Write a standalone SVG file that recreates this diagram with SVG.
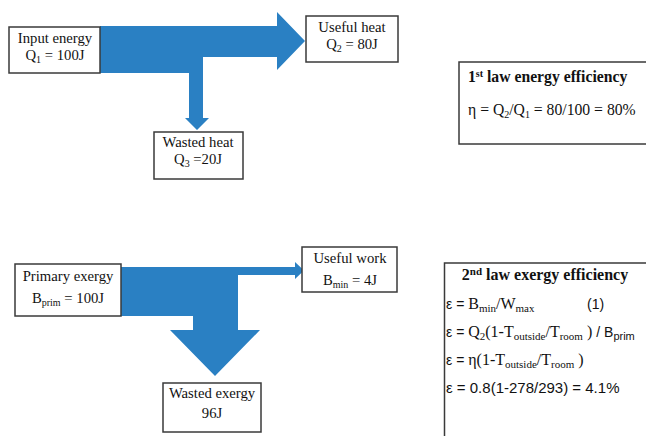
<svg xmlns="http://www.w3.org/2000/svg" width="646" height="436" viewBox="0 0 646 436">
<style>
.box{fill:#fff;stroke:#3a3a3a;stroke-width:1.5}
.flow{fill:#2a80c3}
.t{font-family:"Liberation Serif","Times New Roman",serif;font-size:14.7px;fill:#111}
.c{text-anchor:middle}
.b{font-weight:bold}
.m{font-size:15.7px}
.l{font-size:16px}
.s{font-family:"Liberation Sans",Arial,sans-serif;font-size:14px}
.sub{font-size:10px}
.sub2{font-size:11px}
</style>
<rect width="646" height="436" fill="#fff"/>
<g id="connectors">
<polygon class="flow" points="100,26 277,26 277,12 305,41 277,70 277,57 203,57 203,118 209,118 197,130 185,118 189,118 189,73 100,73"/>
<polygon class="flow" points="121,267 295,267 295,262 304,270.5 295,279 295,275 238,275 238,330 260,330 215,376 170,330 193,330 193,316 121,316"/>
</g>
<g id="input-energy">
<rect class="box" x="9" y="27" width="91" height="46"/>
<text class="t c" x="55" y="43">Input energy</text>
<text class="t c" x="55" y="60">Q<tspan class="sub" dy="3">1</tspan><tspan dy="-3"> = 100J</tspan></text>
</g>
<g id="useful-heat">
<rect class="box" x="306" y="16" width="92" height="46"/>
<text class="t c" x="352" y="32">Useful heat</text>
<text class="t c" x="352" y="49">Q<tspan class="sub" dy="3">2</tspan><tspan dy="-3"> = 80J</tspan></text>
</g>
<g id="wasted-heat">
<rect class="box" x="154" y="132" width="89" height="47"/>
<text class="t c" x="198" y="147">Wasted heat</text>
<text class="t c" x="198" y="164">Q<tspan class="sub" dy="3">3</tspan><tspan dy="-3"> =20J</tspan></text>
</g>
<g id="first-law">
<rect class="box" x="459" y="62" width="200" height="82"/>
<text class="t m b" x="468" y="82">1<tspan class="sub" dy="-5">st</tspan><tspan dy="5"> law energy efficiency</tspan></text>
<text class="t m" x="468" y="115">η = Q<tspan class="sub" dy="3">2</tspan><tspan dy="-3">/Q</tspan><tspan class="sub" dy="3">1</tspan><tspan dy="-3"> = 80/100 = 80%</tspan></text>
</g>
<g id="primary-exergy">
<rect class="box" x="15" y="264" width="106" height="52"/>
<text class="t c" x="68" y="281">Primary exergy</text>
<text class="t c" x="68" y="303">B<tspan class="sub" dy="3">prim</tspan><tspan dy="-3"> = 100J</tspan></text>
</g>
<g id="useful-work">
<rect class="box" x="302" y="247" width="95" height="45"/>
<text class="t c" x="350" y="263">Useful work</text>
<text class="t c" x="350" y="285">B<tspan class="sub" dy="3">min</tspan><tspan dy="-3"> = 4J</tspan></text>
</g>
<g id="wasted-exergy">
<rect class="box" x="163" y="383" width="98" height="49"/>
<text class="t c" x="212" y="398">Wasted exergy</text>
<text class="t c" x="212" y="418">96J</text>
</g>
<g id="second-law">
<rect class="box" x="444.5" y="263" width="215" height="190"/>
<text class="t l b c" x="545" y="280">2<tspan class="sub2" dy="-5">nd</tspan><tspan dy="5"> law exergy efficiency</tspan></text>
<text class="t l" x="446" y="309"><tspan class="s">ε = </tspan>B<tspan class="sub2" dy="3">min</tspan><tspan dy="-3">/W</tspan><tspan class="sub2" dy="3">max</tspan><tspan class="s" x="587" dy="-3">(1)</tspan></text>
<text class="t l" x="446" y="337"><tspan class="s">ε = </tspan>Q<tspan class="sub2" dy="3">2</tspan><tspan dy="-3">(1-T</tspan><tspan class="sub2" dy="3">outside</tspan><tspan dy="-3">/T</tspan><tspan class="sub2" dy="3">room</tspan><tspan dy="-3"> ) </tspan><tspan class="s">/ B</tspan><tspan class="s sub2" dy="3">prim</tspan></text>
<text class="t l" x="446" y="365"><tspan class="s">ε = </tspan>η(1-T<tspan class="sub2" dy="3">outside</tspan><tspan dy="-3">/T</tspan><tspan class="sub2" dy="3">room</tspan><tspan dy="-3"> )</tspan></text>
<text class="t s" x="446" y="393" style="font-size:15px">ε = 0.8(1-278/293) = 4.1%</text>
</g>
</svg>
